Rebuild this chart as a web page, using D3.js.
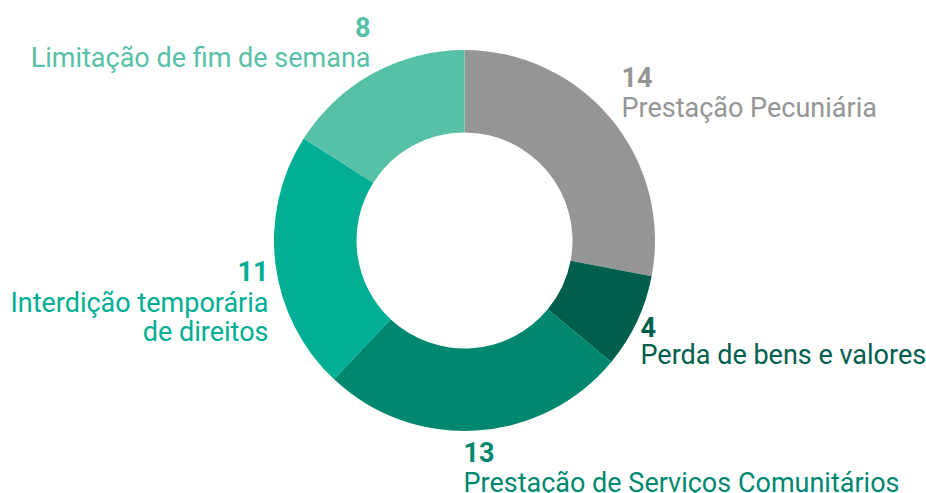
<!DOCTYPE html>
<html><head><meta charset="utf-8">
<script src="https://cdn.jsdelivr.net/npm/d3@7"></script>
<style>body{margin:0;background:#fff}svg{display:block}text{font-family:Roboto,"Noto Sans",sans-serif}</style>
</head><body><svg id="c" width="926" height="493"></svg>
<script>
const categories = ["Prestação Pecuniária","Perda de bens e valores","Prestação de Serviços Comunitários","Interdição temporária de direitos","Limitação de fim de semana"];
const values = [14,4,13,11,8];
const colors = ["#939695","#005e4d","#00876f","#00ae94","#57c1a8"];
// label lines (for wrapping) and layout anchors relative to the centre
const labelLines = [["Prestação Pecuniária"],["Perda de bens e valores"],["Prestação de Serviços Comunitários"],["Interdição temporária","de direitos"],["Limitação de fim de semana"]];
const labelLayout = [
  {dx:157, dy:-154, anchor:"start", gap:30},
  {dx:176, dy:96, anchor:"start", gap:27},
  {dx:-1, dy:221, anchor:"start", gap:30},
  {dx:-196, dy:40, anchor:"end", gap:31},
  {dx:-94, dy:-204, anchor:"end", gap:30}
];
const W=926,H=493,cx=464.5,cy=240.5,R=190.5,r=108,fs=27;
const svg=d3.select("#c");
const g=svg.append("g").attr("transform",`translate(${cx},${cy})`);
const pie=d3.pie().sort(null).value(d=>d)(values);
const arc=d3.arc().innerRadius(r).outerRadius(R);
g.selectAll("path").data(pie).join("path").attr("d",arc).attr("fill",(d,i)=>colors[i]);
const lg=g.selectAll("g.lab").data(pie).join("g").attr("class","lab")
  .attr("transform",(d,i)=>`translate(${labelLayout[i].dx},${labelLayout[i].dy})`);
lg.append("text").attr("text-anchor",(d,i)=>labelLayout[i].anchor)
  .attr("font-weight",700).attr("font-size",fs).attr("fill",(d,i)=>colors[i])
  .text(d=>d.data);
lg.each(function(d,i){
  const t=d3.select(this).append("text").attr("text-anchor",labelLayout[i].anchor)
    .attr("y",labelLayout[i].gap).attr("font-size",fs).attr("fill",colors[i]);
  labelLines[i].forEach((ln,j)=>{
    t.append("tspan").attr("x",0).attr("dy",j===0?0:29).text(ln);
  });
});
</script></body></html>
